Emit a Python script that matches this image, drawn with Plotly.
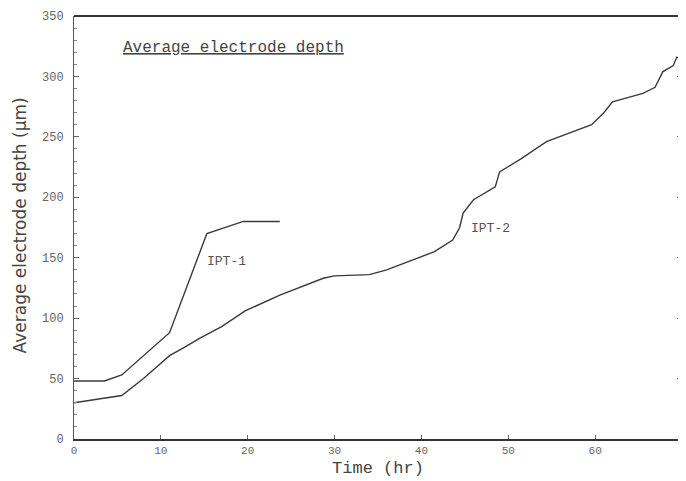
import plotly.graph_objects as go

ipt1_time = [0, 3.5, 5.5, 11, 15.3, 19.5, 23.7]
ipt1_depth = [48, 48, 53, 88, 170, 180, 180]

ipt2_time = [0, 2.5, 5.5, 8, 11, 12.5, 14.5, 17, 19.7, 23.7, 28.7, 30, 34, 36, 39, 41.5, 43.6, 44.4, 44.8, 46, 48.5, 49, 51.5, 54.4, 59.6, 61, 62, 65.5, 66.9, 67.8, 69, 69.4, 70]
ipt2_depth = [30, 33, 36, 50, 69, 75, 83.5, 93, 106, 119, 133, 135, 136, 140, 148, 155, 164.6, 175, 187, 198, 208.6, 221, 232, 246, 260, 270, 279, 286, 291, 304, 309, 316, 314]

x_ticks = [0, 10, 20, 30, 40, 50, 60, 70]
y_ticks = [0, 50, 100, 150, 200, 250, 300, 350]

line_col = "#3a3a3a"
mono = "Liberation Mono"

fig = go.Figure()
fig.add_trace(go.Scatter(x=ipt1_time, y=ipt1_depth, mode="lines",
                         line=dict(color=line_col, width=1.4), showlegend=False))
fig.add_trace(go.Scatter(x=ipt2_time, y=ipt2_depth, mode="lines",
                         line=dict(color=line_col, width=1.4), showlegend=False))

fig.add_annotation(x=17.5, y=146.5, text="IPT-1", showarrow=False,
                   font=dict(family=mono, size=13, color="#555"))
fig.add_annotation(x=48, y=174, text="IPT-2", showarrow=False,
                   font=dict(family=mono, size=13, color="#555"))
fig.add_annotation(x=5.4, y=323.5, xanchor="left", text="<u>Average electrode depth</u>",
                   showarrow=False, font=dict(family=mono, size=16, color="#444"))
fig.add_annotation(xref="paper", yref="paper", x=-0.0888, y=0.505, textangle=-90,
                   xanchor="center", yanchor="middle",
                   text="Average electrode depth (μm)", showarrow=False,
                   font=dict(family="DejaVu Sans", size=17, color="#444"))

fig.update_xaxes(range=[0, 70], tickvals=x_ticks, ticks="inside", ticklen=4,
                 tickcolor="#666", showline=True, linecolor="#333", linewidth=2,
                 mirror=False, showgrid=False, zeroline=False, automargin=False,
                 tickfont=dict(family=mono, size=11, color="#666"),
                 title=dict(text="Time (hr)", font=dict(family=mono, size=17, color="#444"),
                            standoff=5))
fig.update_yaxes(range=[0, 350], tickvals=y_ticks, ticks="inside", ticklen=5,
                 tickcolor="#666", showline=True, linecolor="#555", linewidth=1,
                 mirror="ticks", showgrid=False, zeroline=False, automargin=False,
                 ticklabelstandoff=7,
                 minor=dict(dtick=10, ticks="inside", ticklen=3, tickcolor="#888"),
                 tickfont=dict(family=mono, size=12, color="#666"))

fig.add_shape(type="line", xref="paper", yref="paper", x0=0, x1=1, y0=1, y1=1,
              line=dict(color="#333", width=2))

fig.update_layout(width=678, height=473, margin=dict(l=66, r=4, t=8, b=42),
                  plot_bgcolor="white", paper_bgcolor="white")

fig.write_html("out.html")
